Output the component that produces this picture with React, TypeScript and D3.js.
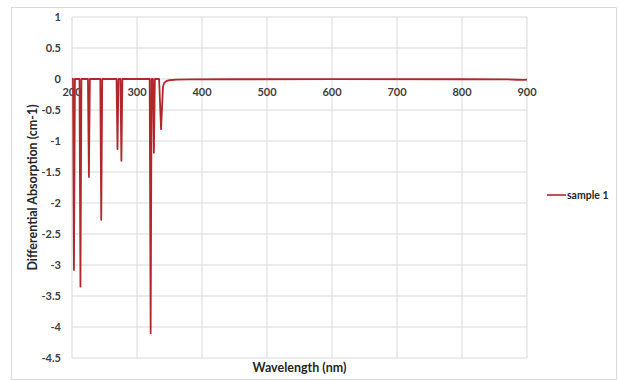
import React from "react";
import * as d3 from "d3";

const wavelengths = [
  200, 201.5, 203, 204.5, 211.5, 213, 214.5, 224.5, 226, 227.5, 243.5, 245, 246.5,
  268.5, 270, 271.5, 274.5, 276, 277.5, 319.5, 321, 322.5, 324.5, 326, 327.5,
  334, 337, 340, 342, 345, 350, 360, 380, 450, 600, 800, 870, 885, 895, 900,
];
const absorbance = [
  0, 0, -3.08, 0, 0, -3.35, 0, 0, -1.58, 0, 0, -2.27, 0,
  0, -1.13, 0, 0, -1.32, 0, 0, -4.1, 0, 0, -1.19, 0,
  0, -0.81, -0.12, -0.06, -0.035, -0.02, -0.01, -0.006, -0.004, -0.003, -0.004, -0.006, -0.012, -0.015, -0.01,
];
const xTicks = [200, 300, 400, 500, 600, 700, 800, 900];
const yTicks = [1, 0.5, 0, -0.5, -1, -1.5, -2, -2.5, -3, -3.5, -4, -4.5];
const seriesName = "sample 1";
const xTitle = "Wavelength (nm)";
const yTitle = "Differential Absorption (cm-1)";

const W = 618;
const H = 380;
const left = 72;
const right = 527;
const top = 17;
const bottom = 358;
const lineColor = "#b0282c";
const gridColor = "#d9d9d9";
const textColor = "#404040";
const font = "Lato, 'Open Sans', sans-serif";

export default function App() {
  const x = d3.scaleLinear().domain([200, 900]).range([left, right]);
  const y = d3.scaleLinear().domain([-4.5, 1]).range([bottom, top]);
  const pts = wavelengths.map((w, i) => [w, absorbance[i]] as [number, number]);
  const line = d3
    .line<[number, number]>()
    .x((d) => x(d[0]))
    .y((d) => y(d[1]));

  return (
    <svg
      width={W}
      height={H}
      style={{ position: "fixed", left: 0, top: 0, background: "#fff" }}
      fontFamily={font}
    >
      <rect x={11.5} y={7.5} width={605} height={372} fill="#fff" stroke="#d9d9d9" strokeWidth={1} />
      {xTicks.map((t) => (
        <line key={"gx" + t} x1={x(t)} x2={x(t)} y1={top} y2={bottom} stroke={gridColor} strokeWidth={1} />
      ))}
      {yTicks.map((t) => (
        <line key={"gy" + t} x1={left} x2={right} y1={y(t)} y2={y(t)} stroke={gridColor} strokeWidth={1} />
      ))}
      {yTicks.map((t) => (
        <text
          key={"ty" + t}
          x={61}
          y={y(t)}
          dy="0.35em"
          textAnchor="end"
          fontSize={11}
          fontWeight="bold"
          fill={textColor}
        >
          {String(t)}
        </text>
      ))}
      {xTicks.map((t) => (
        <text
          key={"tx" + t}
          x={x(t)}
          y={y(0) + 17}
          textAnchor="middle"
          fontSize={11}
          fontWeight="bold"
          fill={textColor}
        >
          {String(t)}
        </text>
      ))}
      <path d={line(pts) ?? ""} fill="none" stroke={lineColor} strokeWidth={1.8} strokeLinejoin="round" />
      <text
        x={(left + right) / 2}
        y={372}
        textAnchor="middle"
        fontSize={12.5}
        fontWeight="bold"
        fill="#262626"
      >
        {xTitle}
      </text>
      <text
        transform={`translate(37, ${(top + bottom) / 2}) rotate(-90)`}
        textAnchor="middle"
        fontSize={12.5}
        fontWeight="bold"
        fill="#262626"
      >
        {yTitle}
      </text>
      <line x1={547} x2={566} y1={195} y2={195} stroke={lineColor} strokeWidth={1.6} />
      <text x={567} y={195} dy="0.35em" fontSize={10.5} fontWeight="bold" fill="#262626">
        {seriesName}
      </text>
    </svg>
  );
}
